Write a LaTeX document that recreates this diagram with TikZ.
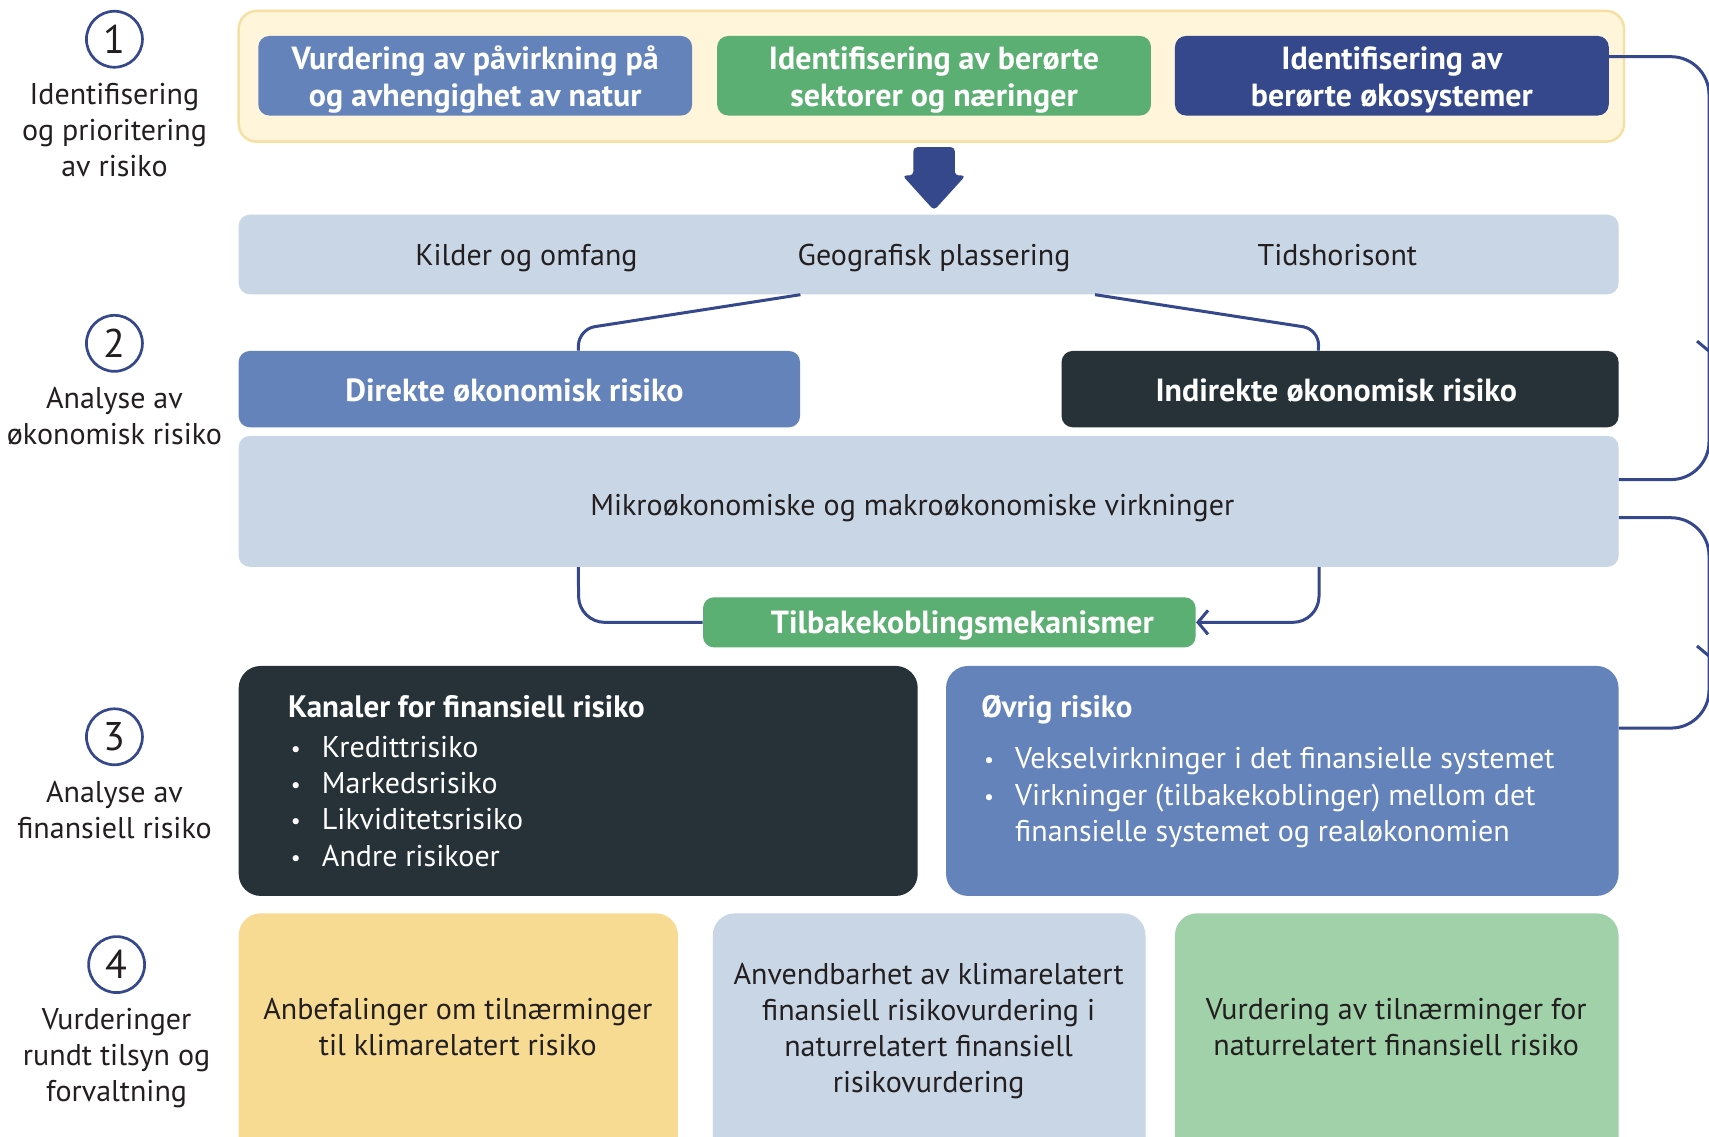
\documentclass[tikz,border=0pt]{standalone}
\usepackage{fontspec}
\setmainfont{PT Sans}
\usetikzlibrary{fit,calc,arrows.meta,decorations.markings}
\definecolor{midblue}{HTML}{6383BA}
\definecolor{grn}{HTML}{5BAF72}
\definecolor{dkblue}{HTML}{34488B}
\definecolor{dark}{HTML}{263238}
\definecolor{pale}{HTML}{C9D6E6}
\definecolor{ylwfill}{HTML}{FEF5DA}
\definecolor{ylwline}{HTML}{F6DFA0}
\definecolor{ylwbox}{HTML}{F7DB93}
\definecolor{ltgrn}{HTML}{A0D1A9}
\definecolor{txt}{HTML}{231F20}
\newcommand{\bulx}{\makebox[18pt][l]{\hspace{2.5pt}\raisebox{0.5pt}{\fontsize{11}{11}\selectfont •}}}
\begin{document}
\begin{tikzpicture}[x=0.545pt,y=-0.545pt,
  box/.style={rounded corners=5.5pt, inner sep=0pt, draw=none},
  bigbox/.style={rounded corners=11pt, inner sep=0pt, draw=none},
  hdr/.style={text=white, font=\bfseries\fontsize{16}{18.5}\selectfont, align=center},
  one/.style={text height=13.5pt, text depth=2.4pt},
  body/.style={text=txt, font=\fontsize{15}{18}\selectfont, align=center},
  lst/.style={text=white, font=\fontsize{15}{18}\selectfont, align=left, inner sep=0pt},
  conn/.style={dkblue, line width=1.5pt},
  tipx/.style={-{Straight Barb[length=5pt,width=12pt]}},
  midarrow/.style={postaction={decorate, decoration={markings,
      mark=at position #1 with {\arrow{Straight Barb[length=5pt,width=12pt]}}}}},
  circ/.style={circle, draw=dkblue, line width=1.35pt, minimum size=28pt, inner sep=0pt,
      text=txt, font=\fontsize{20}{20}\selectfont}
]
\useasboundingbox (0,0) rectangle (1568,1043);
\clip (0,0) rectangle (1568,1043);
\fill[white] (0,0) rectangle (1568,1043);

% step labels
\node[circ] (c1) at (105,36) {1};
\node[body] (l1) at (105,119) {Identifisering\\og prioritering\\av risiko};
\node[circ] (c2) at (105,315) {2};
\node[body] (l2) at (105,382) {Analyse av\\økonomisk risiko};
\node[circ] (c3) at (105,676) {3};
\node[body] (l3) at (105,743) {Analyse av\\finansiell risiko};
\node[circ] (c4) at (107,885) {4};
\node[body] (l4) at (107,971) {Vurderinger\\rundt tilsyn og\\forvaltning};

% step 1
\node[rounded corners=9pt, inner sep=0pt, fill=ylwfill, draw=ylwline, line width=1.2pt,
      fit={(219,10)(1490,130)}] (top) {};
\node[box, fill=midblue, fit={(237,33)(635,106)}] (b1a) {};
\node[hdr, yshift=-2.1pt] (b1at) at (b1a) {Vurdering av påvirkning på\\og avhengighet av natur};
\node[box, fill=grn, fit={(658,33)(1056,106)}] (b1b) {};
\node[hdr, yshift=-2.1pt] (b1bt) at (b1b) {Identifisering av berørte\\sektorer og næringer};
\node[box, fill=dkblue, fit={(1078,33)(1476,106)}] (b1c) {};
\node[hdr, yshift=-2.1pt] (b1ct) at (b1c) {Identifisering av\\berørte økosystemer};

% down arrow
\fill[dkblue, rounded corners=2pt] (838,135) -- (876,135) -- (876,161) -- (886,161)
   -- (857,193) -- (828,161) -- (838,161) -- cycle;

% step 2
\node[box, fill=pale, fit={(219,197)(1485,270)}] (bar) {};
\node[body, one] (t1) at (483,233) {Kilder og omfang};
\node[body, one] (t2) at (857,233) {Geografisk plassering};
\node[body, one] (t3) at (1227,233) {Tidshorisont};

\node[box, fill=midblue, fit={(219,322)(734,392)}] (direkte) {};
\node[hdr, one] (dt) at (472,358) {Direkte økonomisk risiko};
\node[box, fill=dark, fit={(974,322)(1485,392)}] (indirekte) {};
\node[hdr, one] (it) at (1226,358) {Indirekte økonomisk risiko};
\node[box, fill=pale, fit={(219,400)(1485,520)}] (mikro) {};
\node[body, one] (mt) at (837,463) {Mikroøkonomiske og makroøkonomiske virkninger};

\node[box, fill=grn, fit={(645,548)(1097,594)}] (fb) {};
\node[hdr, one] (fbt) at (883,571) {Tilbakekoblingsmekanismer};

\coordinate (ls) at (direkte.north east |- bar.south);
\coordinate (rs) at ($(indirekte.north west |- bar.south)+(31,0)$);
\draw[conn, rounded corners=8pt] (ls) -- (531,302)
   -- ($(direkte.north west)+(312,0)$);
\draw[conn, rounded corners=8pt] (rs) -- (1210,302)
   -- ($(indirekte.north west)+(236,0)$);
\draw[conn, rounded corners=13pt] ($(mikro.south west)+(312,0)$) -- (531,571) -- (fb.west);
\draw[conn, tipx, rounded corners=13pt] ($(mikro.south east)+(-275,0)$) -- (1210,571) -- (fb.east);

% step 3
\node[bigbox, fill=dark, fit={(219,611)(842,822)}] (kan) {};
\node[lst, one, anchor=west, font=\bfseries\fontsize{15.5}{18}\selectfont] (kt) at (264,648) {Kanaler for finansiell risiko};
\node[lst, one, anchor=west] (k1) at (262,685) {\bulx Kredittrisiko};
\node[lst, one, anchor=west] (k2) at (262,718) {\bulx Markedsrisiko};
\node[lst, one, anchor=west] (k3) at (262,751) {\bulx Likviditetsrisiko};
\node[lst, one, anchor=west] (k4) at (262,785) {\bulx Andre risikoer};

\node[bigbox, fill=midblue, fit={(868,611)(1485,822)}] (ovr) {};
\node[lst, one, anchor=west, font=\bfseries\fontsize{15.5}{18}\selectfont] (ot) at (900,648) {Øvrig risiko};
\node[lst, one, anchor=west] (o1) at (898,695) {\bulx Vekselvirkninger i det finansielle systemet};
\node[lst, anchor=west, yshift=-1.5pt] (o2) at (898,746) {\bulx Virkninger (tilbakekoblinger) mellom det\\\hspace*{18pt}finansielle systemet og realøkonomien};

% right loops
\draw[conn, rounded corners=19pt, midarrow=190pt] (b1c.east |- 0,52) -- (1568,52) -- (1568,440) -- (mikro.east |- 0,440);
\draw[conn, rounded corners=19pt, midarrow=107pt] (mikro.east |- 0,475) -- (1568,475) -- (1568,668) -- (ovr.east |- 0,668);

% step 4
\node[bigbox, fill=ylwbox, fit={(219,838)(622,1080)}] (r4a) {};
\node[body] (r4at) at (420,942) {Anbefalinger om tilnærminger\\til klimarelatert risiko};
\node[bigbox, fill=pale, fit={(654,838)(1051,1080)}] (r4b) {};
\node[body] (r4bt) at (852,946) {Anvendbarhet av klimarelatert\\finansiell risikovurdering i\\naturrelatert finansiell\\risikovurdering};
\node[bigbox, fill=ltgrn, fit={(1078,838)(1485,1080)}] (r4c) {};
\node[body] (r4ct) at (1281,942) {Vurdering av tilnærminger for\\naturrelatert finansiell risiko};
\end{tikzpicture}
\end{document}
